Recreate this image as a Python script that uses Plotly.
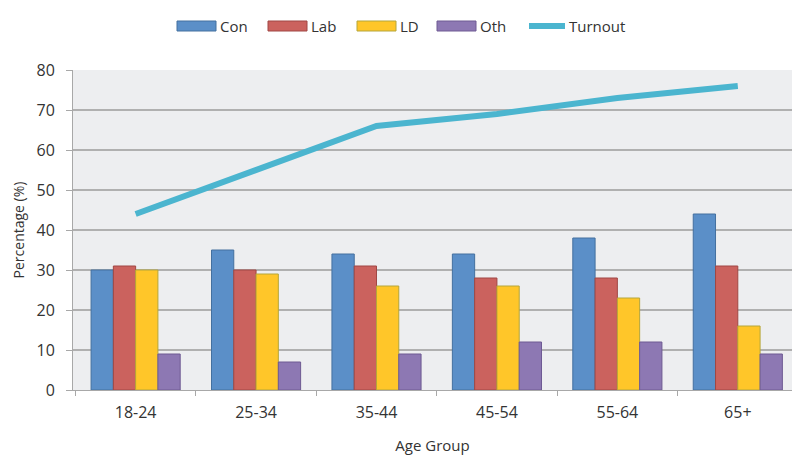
import plotly.graph_objects as go

age_groups = ["18-24", "25-34", "35-44", "45-54", "55-64", "65+"]
con = [30, 35, 34, 34, 38, 44]
lab = [31, 30, 31, 28, 28, 31]
ld = [30, 29, 26, 26, 23, 16]
oth = [9, 7, 9, 12, 12, 9]
turnout = [44, 55, 66, 69, 73, 76]

bar_series = [
    ("Con", con, "#5B8FC8", "#44709F"),
    ("Lab", lab, "#CB625E", "#A04744"),
    ("LD", ld, "#FFC629", "#B5A63A"),
    ("Oth", oth, "#8D78B3", "#6E5A93"),
]
line_colour = "#4BB5CF"

W, H = 792, 455
M_L, M_R, M_T, M_B = 73, 0, 70, 65
plot_w = W - M_L - M_R
plot_h = H - M_T - M_B


def px_x(x):
    return (x - M_L) / plot_w


def px_y(y):
    return 1 + (M_T - y) / plot_h


fig = go.Figure()
for name, vals, fill, edge in bar_series:
    fig.add_trace(go.Bar(
        name=name, x=age_groups, y=vals, showlegend=False,
        marker=dict(color=fill, line=dict(color=edge, width=1)),
    ))

fig.add_trace(go.Scatter(
    name="Turnout", x=age_groups, y=turnout, mode="lines", showlegend=False,
    line=dict(color=line_colour, width=6),
))

# Legend row drawn with wide swatches along the top
legend_starts = [177, 268, 357, 437, 526]
swatch_w = 39
legend_cy = 26
shapes, annotations = [], []
for (name, _, fill, edge), x0 in zip(bar_series, legend_starts):
    shapes.append(dict(
        type="rect", xref="paper", yref="paper",
        x0=px_x(x0), x1=px_x(x0 + swatch_w),
        y0=px_y(legend_cy + 5), y1=px_y(legend_cy - 5),
        fillcolor=fill, line=dict(color=edge, width=1),
    ))
    annotations.append(dict(
        xref="paper", yref="paper", x=px_x(x0 + swatch_w + 2), y=px_y(legend_cy),
        text=name, showarrow=False, xanchor="left", yanchor="middle",
        font=dict(size=15, color="#333333"),
    ))
x0 = legend_starts[-1]
shapes.append(dict(
    type="line", xref="paper", yref="paper",
    x0=px_x(x0 + 3), x1=px_x(x0 + swatch_w), y0=px_y(legend_cy), y1=px_y(legend_cy),
    line=dict(color=line_colour, width=6),
))
annotations.append(dict(
    xref="paper", yref="paper", x=px_x(x0 + swatch_w + 2), y=px_y(legend_cy),
    text="Turnout", showarrow=False, xanchor="left", yanchor="middle",
    font=dict(size=15, color="#333333"),
))

font_family = "Open Sans, Noto Sans, DejaVu Sans"
fig.update_layout(
    width=W, height=H,
    margin=dict(l=M_L, r=M_R, t=M_T, b=M_B),
    paper_bgcolor="white",
    plot_bgcolor="#EDEEF0",
    barmode="group",
    bargap=0.26,
    bargroupgap=0,
    font=dict(family=font_family, size=15, color="#333333"),
    shapes=shapes,
    annotations=annotations,
    xaxis=dict(
        title=dict(text="Age Group", font=dict(size=15), standoff=19),
        range=[-0.52, 5.45],
        tickson="boundaries", ticks="outside", ticklen=5, tickcolor="#A8A8A8",
        ticklabelstandoff=8,
        showline=True, linecolor="#A8A8A8", showgrid=False,
        tickfont=dict(size=16),
    ),
    yaxis=dict(
        title=dict(text="Percentage (%)", font=dict(size=14), standoff=8),
        range=[0, 80], dtick=10, ticks="outside", ticklen=6, tickcolor="#A8A8A8",
        ticklabelstandoff=8,
        showline=True, linecolor="#A8A8A8",
        gridcolor="#B0B0B0", gridwidth=1.5, zeroline=False,
        tickfont=dict(size=16),
    ),
)

fig.write_html("out.html")
